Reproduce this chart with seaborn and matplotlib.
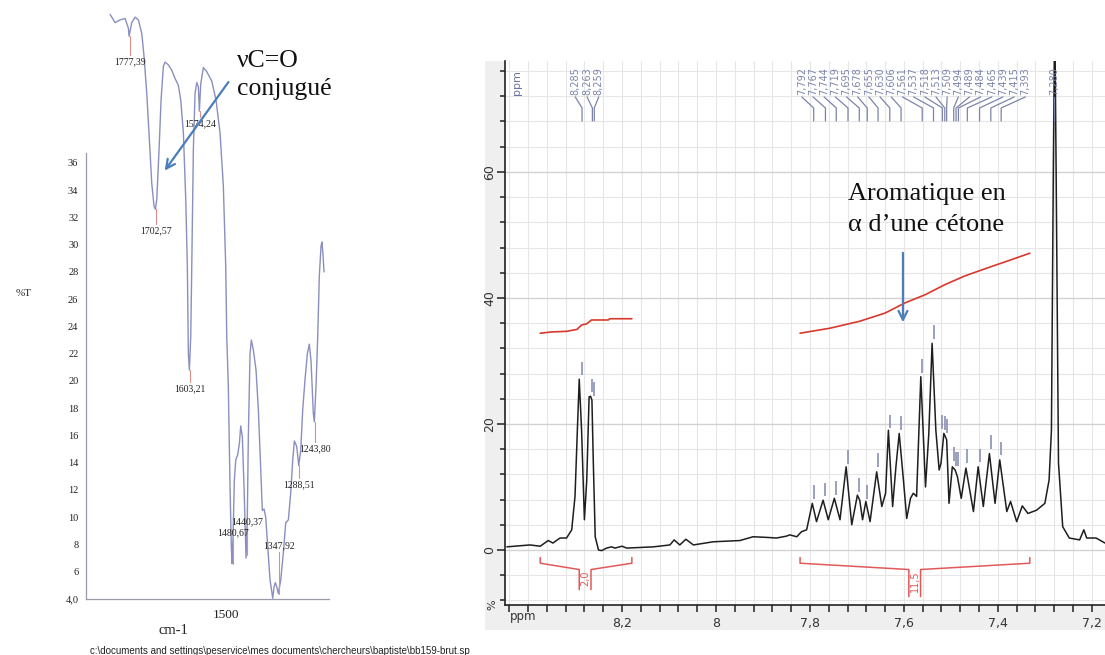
import numpy as np
import matplotlib
matplotlib.use('Agg')
import matplotlib.pyplot as plt
from matplotlib.patches import Rectangle
import seaborn as sns

# ---- IR spectrum (left panel) ----
ir_wavenumber = [1834.5, 1820.1, 1805.7, 1791.3, 1781.8, 1779.7, 1772.0, 1762.4, 1752.9, 1743.1,
                 1736.5, 1728.7, 1721.2, 1714.3, 1707.6, 1703.9, 1699.9, 1693.2, 1687.5, 1680.8,
                 1675.9, 1666.4, 1656.6, 1647.1, 1637.6, 1630.6, 1623.1, 1616.2, 1611.6, 1608.7,
                 1605.8, 1601.8, 1598.9, 1594.3, 1589.4, 1584.5, 1579.9, 1577.0, 1573.0, 1565.5,
                 1555.7, 1541.2, 1528.8, 1517.3, 1507.8, 1500.9, 1498.0, 1493.4, 1488.5, 1484.7,
                 1482.7, 1479.8, 1476.1, 1472.0, 1466.3, 1461.6, 1457.6, 1453.0, 1448.1, 1442.3,
                 1438.6, 1435.7, 1430.8, 1427.0, 1421.3, 1413.5, 1406.8, 1399.9, 1395.3, 1390.4,
                 1385.5, 1379.7, 1373.1, 1365.3, 1361.6, 1357.8, 1353.8, 1349.2, 1342.2, 1334.7,
                 1327.8, 1320.3, 1313.4, 1307.6, 1303.0, 1296.1, 1290.3, 1284.6, 1278.8, 1272.2,
                 1265.5, 1259.8, 1254.9, 1248.2, 1245.3, 1240.4, 1235.5, 1230.9, 1226.0, 1223.1,
                 1219.4, 1217.4]
ir_transmittance = [46.9, 46.3, 46.5, 46.6, 45.9, 45.3, 46.3, 46.7, 46.5, 45.5,
                    43.8, 41.1, 37.7, 34.5, 32.8, 32.6, 33.3, 37.0, 40.6, 43.1,
                    43.4, 43.2, 42.8, 42.2, 41.7, 40.6, 38.2, 33.3, 28.4, 22.0,
                    20.8, 23.3, 28.4, 37.0, 41.1, 41.9, 41.6, 39.8, 41.8, 43.0,
                    42.7, 42.0, 40.6, 38.2, 34.3, 28.4, 23.3, 19.6, 12.2, 7.8,
                    6.6, 8.6, 12.7, 14.2, 14.6, 15.4, 16.7, 15.9, 12.2, 7.0,
                    10.1, 15.9, 22.0, 23.0, 22.3, 20.8, 17.9, 13.5, 10.5, 10.6,
                    10.0, 7.8, 5.4, 4.05, 4.9, 5.2, 4.9, 4.4, 5.4, 7.4,
                    9.6, 9.8, 11.8, 14.2, 15.6, 15.2, 13.8, 14.9, 17.9, 20.1,
                    22.0, 22.7, 21.5, 17.6, 17.0, 19.6, 23.3, 27.7, 29.9, 30.2,
                    28.9, 28.0]
ir_peak_pos = [1777.39, 1702.57, 1603.21, 1574.24, 1480.67, 1440.37, 1347.92, 1288.51, 1243.80]
ir_peak_text = ['1777,39', '1702,57', '1603,21', '1574,24', '1480,67', '1440,37',
                '1347,92', '1288,51', '1243,80']
ir_peak_dip = [45.3, 32.6, 20.8, 39.8, 6.6, 7.2, 4.4, 13.8, 17.0]
ir_label_y = [43.4, 31.0, 19.4, 38.9, 8.85, 9.7, 7.9, 12.4, 15.0]
ir_yticks = [4, 6, 8, 10, 12, 14, 16, 18, 20, 22, 24, 26, 28, 30, 32, 34, 36]
ir_yticklabels = ['4,0', '6', '8', '10', '12', '14', '16', '18', '20', '22', '24', '26',
                  '28', '30', '32', '34', '36']

# ---- 1H NMR spectrum (right panel) ----
nmr_ppm = [8.445, 8.396, 8.374, 8.357, 8.347, 8.332, 8.318, 8.307, 8.300, 8.295,
           8.291, 8.286, 8.280, 8.275, 8.270, 8.267, 8.264, 8.261, 8.257, 8.250,
           8.243, 8.233, 8.222, 8.215, 8.200, 8.190, 8.133, 8.098, 8.089, 8.077,
           8.064, 8.048, 8.006, 7.949, 7.921, 7.892, 7.871, 7.850, 7.843, 7.828,
           7.818, 7.807, 7.795, 7.786, 7.772, 7.761, 7.748, 7.736, 7.723, 7.711,
           7.699, 7.694, 7.688, 7.681, 7.672, 7.658, 7.647, 7.639, 7.633, 7.624,
           7.617, 7.610, 7.601, 7.594, 7.586, 7.580, 7.573, 7.564, 7.554, 7.547,
           7.540, 7.532, 7.525, 7.521, 7.515, 7.509, 7.504, 7.497, 7.491, 7.486,
           7.478, 7.468, 7.452, 7.442, 7.431, 7.418, 7.406, 7.396, 7.381, 7.373,
           7.360, 7.348, 7.336, 7.318, 7.300, 7.291, 7.286, 7.282, 7.279, 7.276,
           7.271, 7.262, 7.248, 7.226, 7.217, 7.211, 7.191, 7.172]
nmr_intensity = [0.5, 0.8, 0.6, 1.5, 1.1, 1.9, 1.9, 3.2, 8.5, 19.0,
                 27.1, 19.0, 4.8, 11.1, 24.3, 24.4, 23.8, 13.8, 2.1, 0.0,
                 -0.1, 0.3, 0.5, 0.3, 0.6, 0.3, 0.5, 0.8, 1.6, 0.8,
                 1.7, 0.8, 1.3, 1.5, 2.1, 2.0, 1.9, 2.2, 2.4, 2.1,
                 2.9, 3.2, 7.4, 4.5, 7.9, 4.8, 8.2, 4.8, 13.2, 4.0,
                 8.7, 7.9, 4.8, 7.7, 4.5, 12.4, 6.9, 9.0, 19.0, 6.9,
                 13.2, 18.5, 11.1, 5.0, 8.2, 9.0, 8.5, 27.5, 10.0, 18.5,
                 32.8, 19.0, 12.7, 13.8, 18.5, 17.5, 7.4, 13.2, 12.7, 11.6,
                 8.2, 13.0, 6.1, 13.2, 6.9, 15.3, 7.4, 14.3, 6.1, 7.7,
                 4.5, 7.0, 5.8, 6.3, 7.4, 11.1, 19.0, 60.0, 86.0, 60.0,
                 13.8, 3.7, 1.9, 1.6, 3.2, 1.9, 1.9, 1.1]

integral1_ppm = [8.374, 8.350, 8.318, 8.296, 8.286, 8.275, 8.265, 8.229, 8.226, 8.179]
integral1_val = [34.4, 34.6, 34.7, 35.0, 35.7, 35.9, 36.5, 36.5, 36.7, 36.7]
integral2_ppm = [7.821, 7.757, 7.694, 7.640, 7.598, 7.555, 7.513, 7.470, 7.417, 7.374, 7.332]
integral2_val = [34.4, 35.2, 36.3, 37.6, 39.2, 40.5, 42.1, 43.5, 44.9, 46.0, 47.1]

bracket_left = [8.374, 7.821]
bracket_right = [8.179, 7.332]
bracket_center = [8.2785, 7.577]
bracket_bottom = [-6.3, -7.4]
bracket_text = ['2,0', '11,5']
bracket_text_y = [-4.5, -5.0]

group1_ppm = [8.285, 8.263, 8.259]
group1_top = [29.9, 27.2, 26.7]
group2_ppm = [7.792, 7.767, 7.744, 7.719, 7.695, 7.678, 7.655, 7.630, 7.606, 7.561, 7.537,
              7.518, 7.513, 7.509, 7.494, 7.489, 7.484, 7.465, 7.439, 7.415, 7.393]
group2_top = [10.3, 10.7, 11.0, 15.9, 11.4, 10.3, 15.4, 21.5, 21.3, 30.3, 35.7,
              21.4, 21.3, 20.8, 16.4, 15.6, 15.6, 16.0, 16.1, 18.3, 17.2]
solvent_ppm = 7.280

nmr_xticks = [8.2, 8.0, 7.8, 7.6, 7.4, 7.2]
nmr_xticklabels = ['8,2', '8', '7,8', '7,6', '7,4', '7,2']
nmr_yticks = [0, 20, 40, 60]

IR_COLOR = '#8a8fbf'
IR_AXIS = '#9a9aa8'
PEAK_RED = '#d98f8a'
NMR_LABEL = '#7d84aa'
INT_RED = '#d8392b'
ARROW = '#4a7ebb'

sns.set_theme(style='white')
plt.rcParams['font.family'] = ['DejaVu Sans']
SERIF = ['Liberation Serif', 'DejaVu Serif']

fig = plt.figure(figsize=(11.05, 6.55), dpi=100)
W, H = 1105.0, 655.0

# grey frame behind the NMR plot
fig.patches.append(Rectangle((485 / W, 1 - 630 / H), 620 / W, 569 / H, transform=fig.transFigure,
                             facecolor='#efefef', edgecolor='none', zorder=-5))

# ================= IR =================
ax1 = fig.add_axes([86 / W, 1 - 599 / H, (329 - 86) / W, (599 - 153) / H])
ax1.set_facecolor('none')
sns.lineplot(x=ir_wavenumber, y=ir_transmittance, ax=ax1, color=IR_COLOR, linewidth=1.0,
             sort=False, estimator=None)
ax1.lines[0].set_clip_on(False)
ax1.set_xlim(1904, 1203)
ax1.set_ylim(4, 36.73)
for s in ['top', 'right']:
    ax1.spines[s].set_visible(False)
for s in ['left', 'bottom']:
    ax1.spines[s].set_color(IR_AXIS)
    ax1.spines[s].set_linewidth(0.9)
ax1.set_yticks(ir_yticks)
ax1.set_yticklabels(ir_yticklabels, family=SERIF, fontsize=7.5, color='#222')
ax1.set_xticks([1900, 1500])
ax1.set_xticklabels(['', '1500'], family=SERIF, fontsize=9.5, color='#222')
ax1.tick_params(axis='both', length=3.5, width=0.8, color=IR_AXIS, pad=2)
ax1.tick_params(axis='x', pad=4)
ax1.set_xlabel('')
ax1.set_ylabel('')

for pos, txt, dip, ly in zip(ir_peak_pos, ir_peak_text, ir_peak_dip, ir_label_y):
    end = ly + 0.5 if dip > ly else ly - 0.45
    ax1.plot([pos, pos], [dip, end], color=PEAK_RED, lw=0.8, clip_on=False)
    ax1.text(pos, ly, txt, ha='center', va='center', family=SERIF, fontsize=7,
             color='#222', clip_on=False)

ax1.text(1468.3, 43.07, 'νC=O', ha='left', va='baseline', family=SERIF,
         fontsize=18.5, color='#111', clip_on=False)
ax1.text(1468.3, 40.99, 'conjugué', ha='left', va='baseline', family=SERIF,
         fontsize=18.5, color='#111', clip_on=False)
ax1.annotate('', xy=(1681.7, 35.27), xytext=(1488.5, 42.1),
             arrowprops=dict(arrowstyle='->', color=ARROW, lw=1.6, mutation_scale=16),
             annotation_clip=False)

fig.text(24 / W, 1 - 294 / H, '%T', ha='center', va='center', family=SERIF, fontsize=8)
fig.text(173 / W, 1 - 631 / H, 'cm-1', ha='center', va='center', family=SERIF, fontsize=10.5)
fig.text(90 / W, 1 - 651 / H,
         'c:\\documents and settings\\peservice\\mes documents\\chercheurs\\baptiste\\bb159-brut.sp',
         ha='left', va='center', family=['Liberation Sans', 'DejaVu Sans'], fontsize=7,
         color='#222')

# ================= NMR =================
ax2 = fig.add_axes([505 / W, 1 - 605 / H, 600 / W, 544 / H])
ax2.set_facecolor('white')
ax2.set_xlim(8.449, 7.172)
ax2.set_ylim(-8.73, 77.6)

ax2.set_xticks(nmr_xticks)
ax2.set_xticks(np.arange(7.20, 8.45, 0.04), minor=True)
ax2.set_yticks(nmr_yticks)
ax2.set_yticks(np.arange(-8, 77, 4), minor=True)
ax2.grid(which='minor', color='#e6e6e6', lw=0.8)
ax2.grid(which='major', axis='y', color='#d2d2d2', lw=1.0)
ax2.grid(which='major', axis='x', color='#e6e6e6', lw=0.8)
ax2.set_axisbelow(True)

sns.lineplot(x=nmr_ppm, y=nmr_intensity, ax=ax2, color='#1e1e1e', linewidth=1.1,
             sort=False, estimator=None)
sns.lineplot(x=integral1_ppm, y=integral1_val, ax=ax2, color=INT_RED, linewidth=1.2,
             sort=False, estimator=None)
sns.lineplot(x=integral2_ppm, y=integral2_val, ax=ax2, color=INT_RED, linewidth=1.2,
             sort=False, estimator=None)
ax2.set_xlabel('')
ax2.set_ylabel('')

for s in ['top', 'right']:
    ax2.spines[s].set_visible(False)
for s in ['left', 'bottom']:
    ax2.spines[s].set_color('#222')
    ax2.spines[s].set_linewidth(1.2)

tick_font = ['Liberation Sans Narrow', 'DejaVu Sans']
ax2.set_xticklabels(nmr_xticklabels, family=tick_font, fontsize=9, color='#333')
ax2.set_yticklabels([str(v) for v in nmr_yticks], family=tick_font, fontsize=9, color='#333',
                    rotation=90, va='center')
ax2.tick_params(axis='x', which='both', direction='out', length=5, width=1.1, color='#222',
                pad=3.5, bottom=True)
ax2.tick_params(axis='y', which='major', direction='out', length=6, width=1.1, color='#222',
                pad=0.5, left=True)
ax2.tick_params(axis='y', which='minor', direction='out', length=3.5, width=1.1, color='#222',
                left=True)

# integration brackets
for l, r, c, b, t, ty in zip(bracket_left, bracket_right, bracket_center, bracket_bottom,
                             bracket_text, bracket_text_y):
    hw = 0.0125
    ax2.plot([l, l, c + hw, c + hw], [-1.2, -2.1, -3.1, b], color='#e05a5a', lw=1.1)
    ax2.plot([r, r, c - hw, c - hw], [-1.2, -2.1, -3.1, b], color='#e05a5a', lw=1.1)
    ax2.text(c, ty, t, rotation=90, ha='center', va='center', fontsize=7, color='#e05a5a')

# peak pickings: short marks above peaks, leaders and labels at the top
xt = ax2.get_xaxis_transform()
for grp, tops, center, step in [(group1_ppm, group1_top, 8.2745, 0.0250),
                                (group2_ppm, group2_top, 7.5794, 0.0238)]:
    n = len(grp)
    lab_x = center - (np.arange(n) - (n - 1) / 2) * step
    ax2.vlines(grp, np.array(tops) - 2.2, tops, color='#8a90b5', lw=1.2)
    for p, lx in zip(grp, lab_x):
        ax2.plot([lx, p, p], [0.934, 0.9136, 0.8897], transform=xt, color=NMR_LABEL, lw=0.9,
                 clip_on=False)
        ax2.text(lx, 0.989, ('%.3f' % p).replace('.', ','), transform=xt, rotation=90,
                 ha='center', va='top', fontsize=7, color=NMR_LABEL)
ax2.plot([solvent_ppm, solvent_ppm], [0.934, 0.8897], transform=xt, color=NMR_LABEL, lw=0.9)
ax2.text(solvent_ppm, 0.989, ('%.3f' % solvent_ppm).replace('.', ','), transform=xt,
         rotation=90, ha='center', va='top', fontsize=7, color=NMR_LABEL)

ax2.text(0.02, 0.96, 'ppm', transform=ax2.transAxes, rotation=90, ha='center', va='center',
         fontsize=8, color='#6d75a0')
ax2.text(-0.021, 0.0, '%', transform=ax2.transAxes, rotation=90, ha='center', va='center',
         fontsize=8, color='#333', clip_on=False)
ax2.text(0.008, -0.022, 'ppm', transform=ax2.transAxes, ha='left', va='center',
         family=tick_font, fontsize=8.5, color='#333', clip_on=False)

ax2.text(7.719, 55.6, 'Aromatique en', ha='left', va='baseline',
         family=SERIF, fontsize=19, color='#111')
ax2.text(7.719, 50.6, 'α d\u2019une cétone', ha='left', va='baseline',
         family=SERIF, fontsize=19, color='#111')
ax2.annotate('', xy=(7.602, 35.7), xytext=(7.602, 47.6),
             arrowprops=dict(arrowstyle='->', color=ARROW, lw=1.6, mutation_scale=16))

fig.savefig('out.png', dpi=100)
